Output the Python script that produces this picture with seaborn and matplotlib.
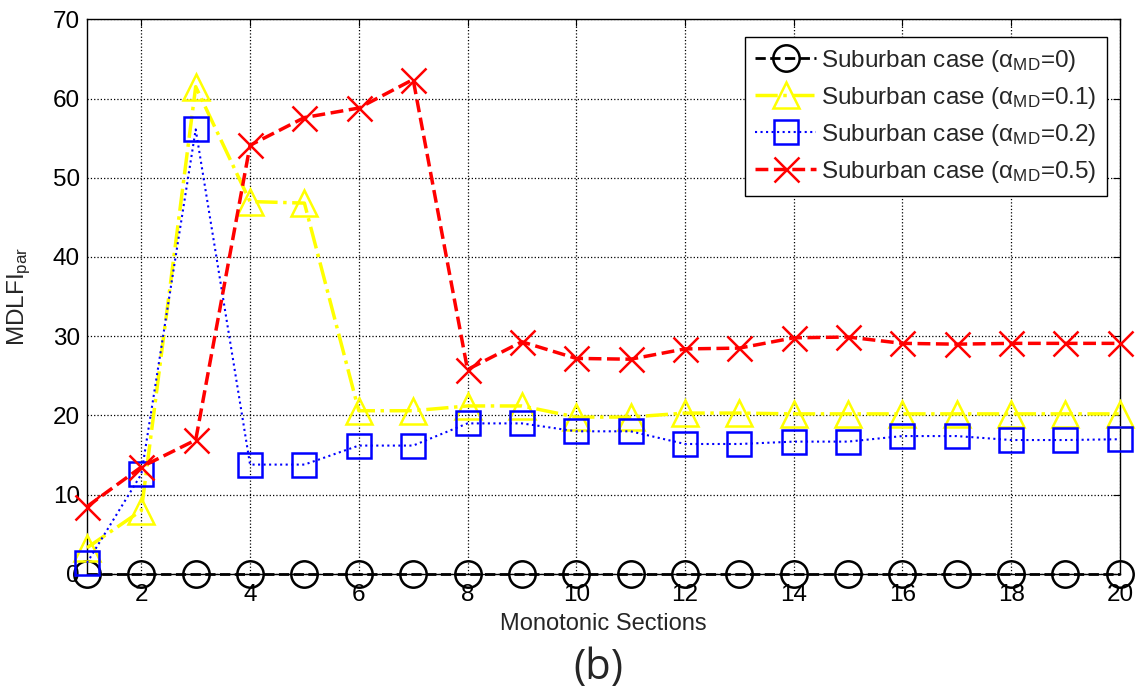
import numpy as np
import pandas as pd
import seaborn as sns
import matplotlib
matplotlib.use('Agg')
import matplotlib.pyplot as plt

# values
sections = list(range(1, 21))
alpha_0 = [0] * 20
alpha_01 = [3.3, 8.0, 61.5, 47.0, 46.8, 20.6, 20.6, 21.2, 21.2, 19.8,
            19.8, 20.3, 20.3, 20.2, 20.2, 20.2, 20.2, 20.2, 20.2, 20.2]
alpha_02 = [1.4, 12.6, 56.1, 13.8, 13.8, 16.2, 16.2, 19.0, 19.0, 18.0,
            18.0, 16.4, 16.4, 16.7, 16.7, 17.4, 17.4, 16.9, 16.9, 17.0]
alpha_05 = [8.5, 13.5, 16.9, 54.1, 57.6, 58.8, 62.4, 25.8, 29.3, 27.2,
            27.1, 28.4, 28.5, 29.8, 29.9, 29.1, 29.0, 29.1, 29.1, 29.1]
labels = [r'Suburban case ($\alpha_{\mathrm{MD}}$=0)',
          r'Suburban case ($\alpha_{\mathrm{MD}}$=0.1)',
          r'Suburban case ($\alpha_{\mathrm{MD}}$=0.2)',
          r'Suburban case ($\alpha_{\mathrm{MD}}$=0.5)']

sns.set_style('white')
plt.rcParams['font.family'] = ['Liberation Sans', 'DejaVu Sans']
plt.rcParams['mathtext.fontset'] = 'custom'
plt.rcParams['mathtext.rm'] = 'Liberation Sans'
plt.rcParams['mathtext.it'] = 'Liberation Sans'

fig = plt.figure(figsize=(11.4, 6.89), dpi=100)
ax = fig.add_axes([0.0763, 0.167, 0.906, 0.805])

styles = [
    (alpha_0, 'black', '--', 'o', 19, 2.0),
    (alpha_01, 'yellow', '-.', '^', 19, 2.5),
    (alpha_02, 'blue', ':', 's', 17, 1.5),
    (alpha_05, 'red', '--', 'x', 18, 2.5),
]
for (vals, col, ls, mk, ms, lw), lab in zip(styles, labels):
    df = pd.DataFrame({'x': sections, 'y': vals})
    sns.lineplot(data=df, x='x', y='y', ax=ax, color=col, linestyle=ls,
                 linewidth=lw, marker=mk, markersize=ms,
                 markerfacecolor='none', markeredgecolor=col,
                 markeredgewidth=1.8, label=lab, zorder=3, clip_on=False)

ax.set_xlim(1, 20)
ax.set_ylim(0, 70)
ax.set_xticks(range(2, 21, 2))
ax.set_yticks(range(0, 71, 10))
ax.grid(True, linestyle=':', color='black', linewidth=0.9)
ax.tick_params(direction='in', top=True, right=True, length=5,
               labelsize=17.5, colors='black', pad=5)
ax.tick_params(axis='x', pad=7)
for s in ax.spines.values():
    s.set_color('black')
    s.set_linewidth(1.0)

ax.set_xlabel('Monotonic Sections', fontsize=17, labelpad=5)
ax.set_ylabel(r'MDLFI$_{\mathrm{par}}$', fontsize=17.5, labelpad=14)

leg = ax.legend(loc='upper right', bbox_to_anchor=(0.988, 0.968),
                borderaxespad=0, fontsize=17.5, fancybox=False,
                edgecolor='black', framealpha=1, handlelength=2.5,
                labelspacing=0.45, handletextpad=0.2, borderpad=0.45)
leg.get_frame().set_linewidth(1.0)

fig.text(0.525, 0.030, '(b)', fontsize=30, family='Open Sans',
         ha='center', va='center')

fig.savefig('out.png', dpi=100)
